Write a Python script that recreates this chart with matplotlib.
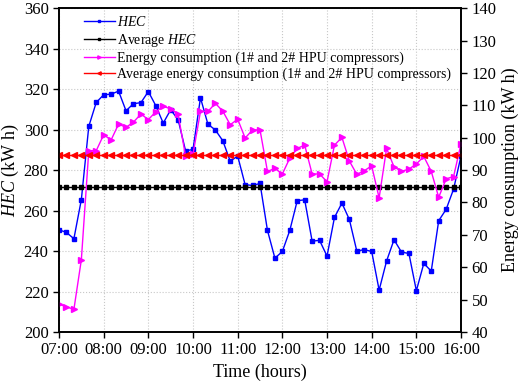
import matplotlib
matplotlib.use("Agg")
import matplotlib.pyplot as plt

plt.rcParams["font.family"] = "Liberation Serif"
plt.rcParams["mathtext.fontset"] = "custom"
plt.rcParams["mathtext.rm"] = "Liberation Serif"
plt.rcParams["mathtext.it"] = "Liberation Serif:italic"

# readings every 10 minutes from 07:00 to 16:00
hec = [250.5, 249.2, 246.1, 265.4, 301.6, 313.4, 317.2, 317.5, 319.0, 309.3,
       312.8, 313.3, 318.8, 311.8, 303.2, 309.8, 304.9, 289.5, 290.2, 315.7,
       302.7, 299.8, 294.5, 284.4, 286.9, 272.8, 272.4, 273.4, 250.2, 236.5,
       239.8, 250.2, 264.9, 265.3, 244.9, 245.3, 237.5, 256.6, 263.7, 255.6,
       240.0, 240.7, 239.8, 220.7, 235.1, 245.6, 239.5, 238.8, 220.4, 233.9,
       230.1, 255.0, 260.6, 270.6, 287.0]
energy = [48.6, 47.8, 47.0, 62.3, 96.0, 96.0, 100.9, 99.3, 104.2, 103.2,
          104.8, 107.3, 105.6, 108.0, 109.7, 108.9, 107.2, 94.3, 94.9, 108.1,
          108.1, 110.6, 108.2, 104.0, 105.7, 99.9, 102.4, 102.4, 89.6, 90.5,
          88.8, 93.7, 96.7, 97.7, 88.8, 88.8, 86.4, 97.7, 100.1, 92.8,
          88.7, 89.8, 91.3, 81.4, 96.7, 91.0, 89.6, 90.3, 91.9, 94.2,
          89.6, 81.6, 87.3, 88.0, 98.1]
hec_avg = 271.4
energy_avg = 94.6
hour_ticks = list(range(7, 17))
hour_labels = [f"{h:02d}:00" for h in hour_ticks]

t = [7 + i / 6 for i in range(len(hec))]

fig = plt.figure(figsize=(5.19, 3.87), dpi=100)
ax = fig.add_axes([0.1137, 0.142, 0.7746, 0.837])
ax2 = ax.twinx()

(l1,) = ax.plot(t, hec, color="blue", marker="s", markersize=3.4, linewidth=1.0,
                label=r"$\it{HEC}$")
(l2,) = ax.plot(t, [hec_avg] * len(t), color="black", marker="s", markersize=3.4,
                linewidth=1.0, label=r"Average $\it{HEC}$")
(l3,) = ax2.plot(t, energy, color="magenta", marker=">", markersize=4, linewidth=1.0,
                 label="Energy consumption (1# and 2# HPU compressors)")
(l4,) = ax2.plot(t, [energy_avg] * len(t), color="red", marker="<", markersize=4,
                 linewidth=1.0,
                 label="Average energy consumption (1# and 2# HPU compressors)")

ax.set_xlim(7, 16)
ax.set_ylim(200, 360)
ax2.set_ylim(40, 140)
ax.set_xticks(hour_ticks)
ax.set_xticklabels(hour_labels)
ax.set_yticks(range(200, 361, 20))
ax2.set_yticks(range(40, 141, 10))

ax.grid(True, linestyle=":", color="#c8c8c8", linewidth=0.8)
ax.set_axisbelow(True)

for a in (ax, ax2):
    a.tick_params(labelsize=12, direction="out", length=4, width=1)
    for s in a.spines.values():
        s.set_linewidth(1.2)

ax.set_xlabel("Time (hours)", fontsize=13)
ax.set_ylabel(r"$\it{HEC}$ (kW h)", fontsize=13, labelpad=2)
ax2.set_ylabel("Energy consumption (kW h)", fontsize=13, labelpad=4)

ax2.legend(handles=[l1, l2, l3, l4], loc="upper left", frameon=False, fontsize=10,
           markerscale=0.6, handlelength=2.2, handletextpad=0.2, labelspacing=0.2,
           borderaxespad=0.1, bbox_to_anchor=(0.045, 1.0))

fig.savefig("out.png", dpi=100)
